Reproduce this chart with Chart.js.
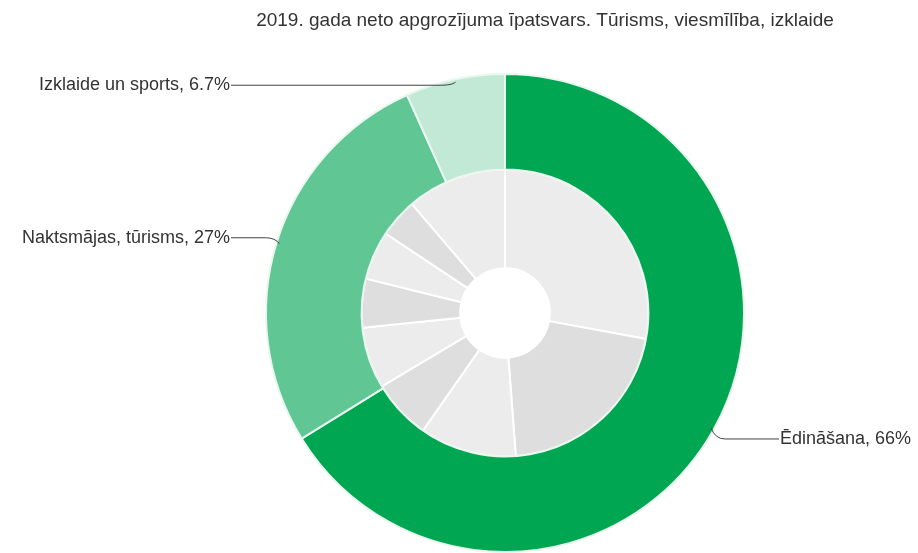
<!DOCTYPE html>
<html>
<head>
<meta charset="utf-8">
<script src="https://cdn.jsdelivr.net/npm/chart.js@4"></script>
<style>
  html, body { margin: 0; padding: 0; background: #fff; }
  .chart-container { position: relative; width: 918px; height: 553px; }
</style>
</head>
<body>
<div class="chart-container">
  <canvas id="turnover-chart" width="918" height="553"></canvas>
</div>
<script>
// Dati
const chartTitle = '2019. gada neto apgrozījuma īpatsvars. Tūrisms, viesmīlība, izklaide';
const sectors = ['Ēdināšana', 'Naktsmājas, tūrisms', 'Izklaide un sports'];
const sectorShares = [66, 27, 6.7];
const sectorLabels = ['66%', '27%', '6.7%'];
// iekšējais gredzens (bez nosaukumiem attēlā)
const subShares = [27.9, 20.9, 10.9, 6.75, 6.9, 5.5, 5.5, 4.4, 11.25];

const sectorColors = ['#00a651', '#60c794', '#c2e9d5'];
const subColors = subShares.map((v, i) => i % 2 === 0 ? '#ececec' : '#dedede');

// etiķetes ar līnijām
const leaderLabels = {
  id: 'leaderLabels',
  afterDatasetsDraw(chart) {
    const ctx = chart.ctx;
    const meta = chart.getDatasetMeta(0);
    const nudge = [11, -6, 3];
    ctx.save();
    ctx.font = '18px "Liberation Sans", Arial, sans-serif';
    ctx.textBaseline = 'middle';
    ctx.strokeStyle = '#444';
    ctx.lineWidth = 1;
    meta.data.forEach((arc, i) => {
      const p = arc.getProps(['x', 'y', 'outerRadius', 'startAngle', 'endAngle'], true);
      const mid = (p.startAngle + p.endAngle) / 2;
      const px = p.x + Math.cos(mid) * (p.outerRadius - 3);
      const py = p.y + Math.sin(mid) * (p.outerRadius - 3);
      const side = Math.cos(mid) >= 0 ? 1 : -1;
      const tx = p.x + side * (p.outerRadius + 36);
      const ty = py + nudge[i];
      ctx.beginPath();
      ctx.moveTo(px, py);
      ctx.quadraticCurveTo(px + side * 4, ty, px + side * 14, ty);
      ctx.lineTo(tx - side * 1, ty);
      ctx.stroke();
      ctx.fillStyle = '#333';
      ctx.textAlign = side > 0 ? 'left' : 'right';
      ctx.fillText(sectors[i] + ', ' + sectorLabels[i], tx, ty);
    });
    // virsraksts
    ctx.font = '19px "Liberation Sans", Arial, sans-serif';
    ctx.textAlign = 'center';
    ctx.fillStyle = '#333';
    ctx.fillText(chartTitle, 545, 21);
    ctx.restore();
  }
};

const ctx = document.getElementById('turnover-chart').getContext('2d');
const chart = new Chart(ctx, {
  type: 'doughnut',
  data: {
    labels: sectors,
    datasets: [
      {
        data: sectorShares,
        backgroundColor: sectorColors,
        borderColor: '#eaf7f0',
        borderWidth: 2,
        weight: 96
      },
      {
        data: subShares,
        backgroundColor: subColors,
        borderColor: '#ffffff',
        borderWidth: 2,
        weight: 99
      }
    ]
  },
  options: {
    responsive: false,
    animation: false,
    cutout: '18.75%',
    layout: { padding: { left: 92, right: 0, top: 73, bottom: 0 } },
    plugins: {
      legend: { display: false },
      tooltip: { enabled: false }
    }
  },
  plugins: [leaderLabels]
});
</script>
</body>
</html>
